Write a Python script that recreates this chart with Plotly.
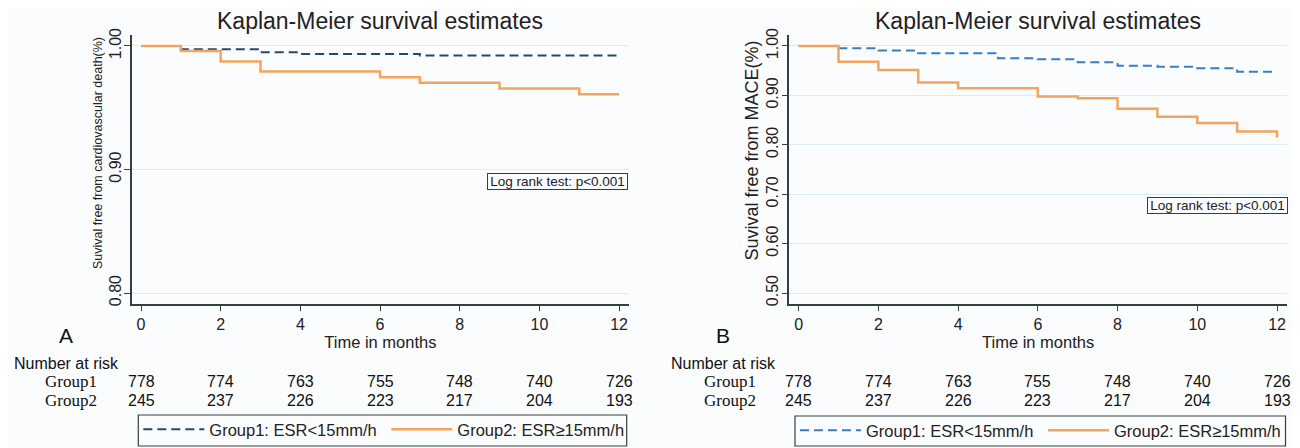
import plotly.graph_objects as go

# ---------------- data ----------------
A_time_g1 = [0, 1, 3, 4, 7, 12]
A_surv_g1 = [1.000, 0.9974, 0.9949, 0.9936, 0.9923, 0.9923]
A_time_g2 = [0, 1, 2, 3, 6, 7, 9, 11, 12]
A_surv_g2 = [1.000, 0.996, 0.9875, 0.9793, 0.9747, 0.9703, 0.9655, 0.961, 0.961]

B_time_g1 = [0, 1, 2, 3, 5, 6, 7, 8, 9, 10, 11, 12]
B_surv_g1 = [1.000, 0.9953, 0.9906, 0.9852, 0.975, 0.973, 0.967, 0.960, 0.958, 0.955, 0.948, 0.948]
B_time_g2 = [0, 1, 2, 3, 4, 6, 7, 8, 9, 10, 11, 12]
B_surv_g2 = [1.000, 0.968, 0.9515, 0.926, 0.9145, 0.8976, 0.894, 0.8727, 0.857, 0.844, 0.827, 0.815]

risk_times = [0, 2, 4, 6, 8, 10, 12]
risk_g1 = [778, 774, 763, 755, 748, 740, 726]
risk_g2 = [245, 237, 226, 223, 217, 204, 193]

x_ticks = [0, 2, 4, 6, 8, 10, 12]
A_yticks = [0.80, 0.90, 1.00]
B_yticks = [0.50, 0.60, 0.70, 0.80, 0.90, 1.00]

series_names = ["Group1: ESR<15mm/h", "Group2: ESR\u226515mm/h"]
row_names = ["Group1", "Group2"]

# ---------------- style ----------------
# the page body has an 8px default margin, so the figure is drawn 8px in
OFF = 8
W, H = 1300 - OFF, 448 - OFF
SANS = "Liberation Sans, Arial, sans-serif"
SERIF = "Liberation Serif, Times New Roman, serif"
AXC = "#34403f"
GRID = "#dcecf3"
ORANGE = "#f5a45e"
BLUE_A = "#26486c"
BLUE_B = "#3a7dc0"
BG = "#fbfcfe"


def fx(p):
    return (p - OFF) / W


def fy(p):
    return 1 - (p - OFF) / H


fig = go.Figure()

fig.add_trace(go.Scatter(x=A_time_g1, y=A_surv_g1, mode="lines", line_shape="hv",
                         line=dict(color=BLUE_A, width=2, dash="9px,5px"),
                         name=series_names[0], xaxis="x", yaxis="y", legend="legend"))
fig.add_trace(go.Scatter(x=A_time_g2, y=A_surv_g2, mode="lines", line_shape="hv",
                         line=dict(color=ORANGE, width=2.5),
                         name=series_names[1], xaxis="x", yaxis="y", legend="legend"))
fig.add_trace(go.Scatter(x=B_time_g1, y=B_surv_g1, mode="lines", line_shape="hv",
                         line=dict(color=BLUE_B, width=2, dash="9px,5px"),
                         name=series_names[0], xaxis="x2", yaxis="y2", legend="legend2"))
fig.add_trace(go.Scatter(x=B_time_g2, y=B_surv_g2, mode="lines", line_shape="hv",
                         line=dict(color=ORANGE, width=2.5),
                         name=series_names[1], xaxis="x2", yaxis="y2", legend="legend2"))

ydom = [fy(304), fy(35)]
xdomA = [fx(131.7), fx(629)]
xdomB = [fx(789.3), fx(1287)]
xrange_ = [-0.234, 12.25]


def xaxis(dom, anchor):
    return dict(domain=dom, anchor=anchor, range=xrange_, tickvals=x_ticks,
                ticks="outside", ticklen=5, tickwidth=1, tickcolor=AXC,
                showline=True, linecolor=AXC, linewidth=1.5, showgrid=False,
                zeroline=False, tickfont=dict(family=SANS, size=16, color="#222"),
                automargin=False,
                title=dict(text="Time in months", font=dict(family=SANS, size=16.5, color="#222"),
                           standoff=0))


def yaxis(rng, ticks, anchor):
    return dict(domain=ydom, anchor=anchor, range=rng, tickvals=ticks,
                tickformat=".2f", tickangle=-90, ticklabelstandoff=-3,
                ticks="outside", ticklen=6, tickwidth=1, tickcolor=AXC,
                showline=True, linecolor=AXC, linewidth=1.5,
                showgrid=True, gridcolor=GRID, gridwidth=1, zeroline=False,
                tickfont=dict(family=SANS, size=16, color="#222"),
                automargin=False)


annotations = []
# titles
for dom in (xdomA, xdomB):
    annotations.append(dict(text="Kaplan-Meier survival estimates", xref="paper", yref="paper",
                            x=(dom[0] + dom[1]) / 2, y=fy(21), xanchor="center", yanchor="middle",
                            showarrow=False, font=dict(family=SANS, size=23, color="#222")))
# y-axis titles (Stata places them slightly above the plot centre)
for text, cx, cy, size in (("Suvival free from cardiovascular death(%)", 98, 153, 12.5),
                           ("Suvival free from MACE(%)", 751.5, 151, 18)):
    annotations.append(dict(text=text, xref="paper", yref="paper", x=fx(cx), y=fy(cy),
                            xanchor="center", yanchor="middle", textangle=-90,
                            showarrow=False, font=dict(family=SANS, size=size, color="#222")))
# panel letters
for letter, px in (("A", 65.5), ("B", 723.5)):
    annotations.append(dict(text=letter, xref="paper", yref="paper", x=fx(px), y=fy(335),
                            xanchor="center", yanchor="middle", showarrow=False,
                            font=dict(family=SANS, size=21, color="#111")))
# log rank boxes
for cx, cy in ((557.5, 181.5), (1217, 205.6)):
    annotations.append(dict(text="Log rank test: p<0.001", xref="paper", yref="paper",
                            x=fx(cx), y=fy(cy), xanchor="center", yanchor="middle",
                            showarrow=False, width=139, height=15, borderpad=0,
                            bordercolor=AXC, borderwidth=1, bgcolor=BG,
                            font=dict(family=SANS, size=13.5, color="#222")))
# number at risk tables
for xa, left_title, left_row in (("x", 11.7, 43), ("x2", 669.3, 701.7)):
    annotations.append(dict(text="Number at risk", xref="paper", yref="paper",
                            x=fx(left_title), y=fy(363), xanchor="left", yanchor="middle",
                            showarrow=False, font=dict(family=SANS, size=16, color="#111")))
    for name, yy in zip(row_names, (381.7, 400)):
        annotations.append(dict(text=name, xref="paper", yref="paper",
                                x=fx(left_row), y=fy(yy), xanchor="left", yanchor="middle",
                                showarrow=False, font=dict(family=SERIF, size=17, color="#111")))
    for t, n1, n2 in zip(risk_times, risk_g1, risk_g2):
        for n, yy in ((n1, 381.7), (n2, 400)):
            annotations.append(dict(text=str(n), xref=xa, yref="paper", x=t, y=fy(yy),
                                    xanchor="center", yanchor="middle", showarrow=False,
                                    font=dict(family=SANS, size=16, color="#111")))

# legend frames
shapes = []
for x0, x1, y0 in ((138.3, 626.7, 415), (795, 1285.5, 416)):
    shapes.append(dict(type="rect", xref="paper", yref="paper", x0=fx(x0), x1=fx(x1),
                       y0=fy(446), y1=fy(y0), line=dict(color=AXC, width=1.2),
                       fillcolor="rgba(0,0,0,0)", layer="above"))


def legend(xleft, ytop):
    return dict(x=fx(xleft), y=fy(ytop), xanchor="left", yanchor="top", orientation="h",
                borderwidth=0, bgcolor="rgba(0,0,0,0)", itemwidth=61,
                entrywidth=172, font=dict(family=SANS, size=16.5, color="#222"),
                tracegroupgap=0)


fig.update_layout(
    width=W, height=H, margin=dict(l=0, r=0, t=0, b=0, autoexpand=False),
    paper_bgcolor=BG, plot_bgcolor=BG,
    xaxis=xaxis(xdomA, "y"), yaxis=yaxis([0.7911, 1.0089], A_yticks, "x"),
    xaxis2=xaxis(xdomB, "y2"), yaxis2=yaxis([0.4778, 1.0222], B_yticks, "x2"),
    legend=legend(138.3, 412), legend2=legend(795, 413),
    annotations=annotations, shapes=shapes,
)

fig.write_html("out.html")
